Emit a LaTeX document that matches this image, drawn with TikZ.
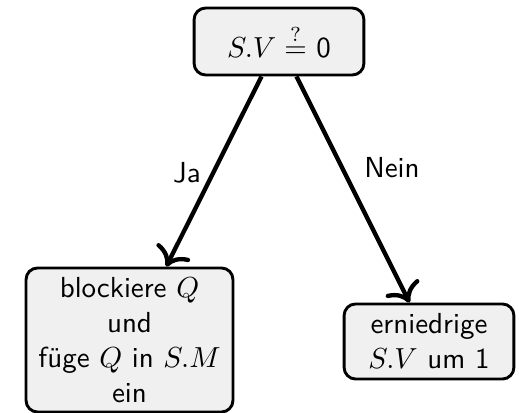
\documentclass[tikz,border=0pt]{standalone}
\usepackage{fontspec}
\usetikzlibrary{arrows.meta}
\begin{document}
\begin{tikzpicture}[x=0.345pt,y=-0.345pt, font=\sffamily,
  box/.style={draw, line width=1pt, rounded corners=4pt, fill=gray!12, align=center, inner sep=0pt},
  conn/.style={line width=1.5pt, -{To[scale=1.25]}},
  lbl/.style={inner sep=0pt}]
\useasboundingbox (0,0) rectangle (519,413);
\node[box, minimum width=58.6pt, minimum height=23.1pt] (top) at (279,41.5) {$S.V \stackrel{?}{=}$ 0};
\node[box, minimum width=71.4pt, minimum height=49.7pt] (left) at (129.5,340) {blockiere $Q$\\und\\füge $Q$ in $S.M$\\ein};
\node[box, minimum width=58.6pt, minimum height=25.9pt] (right) at (429,341.5) {erniedrige\\$S.V$ um 1};
\draw[conn] (top) -- (left);
\draw[conn] (top) -- (right);
\node[lbl] (ja) at (187,173) {Ja};
\node[lbl] (nein) at (392,168) {Nein};
\end{tikzpicture}
\end{document}
